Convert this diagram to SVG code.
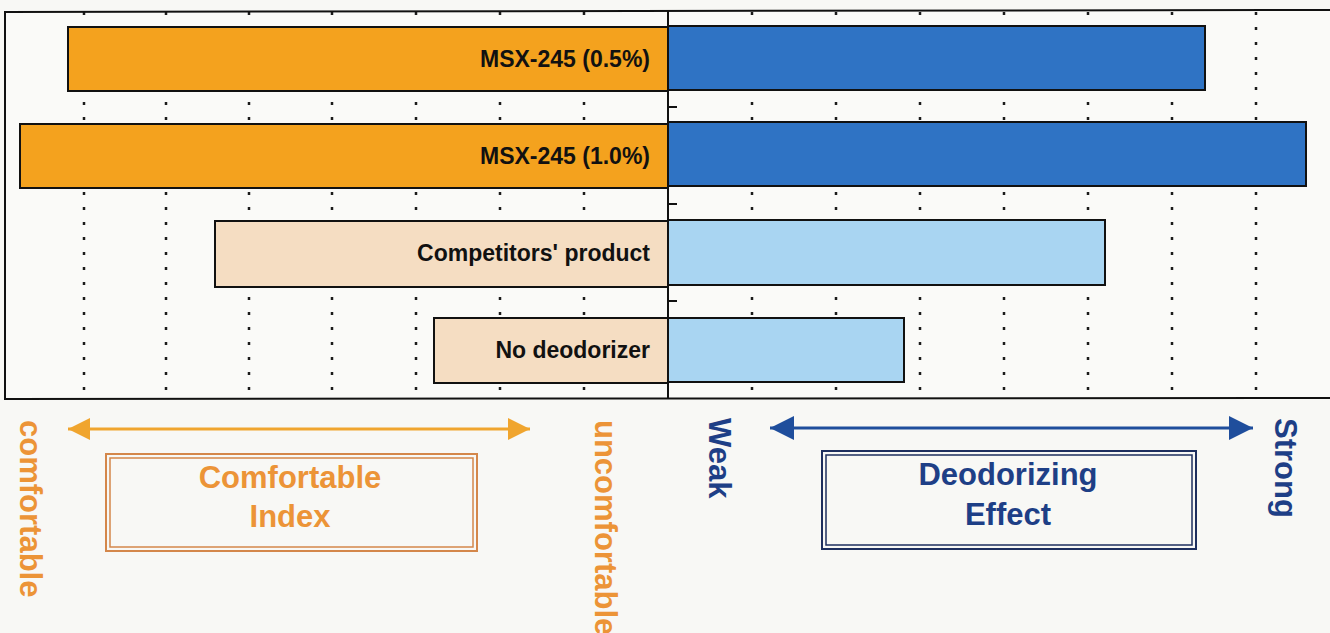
<svg xmlns="http://www.w3.org/2000/svg" width="1330" height="633" viewBox="0 0 1330 633">
<defs>
<style>
.grid{stroke:#1a1a1a;stroke-width:2.5;stroke-dasharray:3 12}
.bar{stroke:#111;stroke-width:2}
.lbl{font-family:"Liberation Sans",Arial,sans-serif;font-weight:bold;font-size:23px;fill:#111;text-anchor:end}
.big{font-family:"Liberation Sans",Arial,sans-serif;font-weight:bold;font-size:31px}
.or{fill:#EC9437}
.bl{fill:#1E3F86}
</style>
<marker id="ao" markerUnits="userSpaceOnUse" markerWidth="24" markerHeight="24" refX="22" refY="12" orient="auto-start-reverse"><path d="M0,1 L22,12 L0,23 z" fill="#F0A52E"/></marker>
<marker id="ab" markerUnits="userSpaceOnUse" markerWidth="26" markerHeight="26" refX="24" refY="13" orient="auto-start-reverse"><path d="M0,1 L24,13 L0,25 z" fill="#1F4E9C"/></marker>
</defs>
<rect width="1330" height="633" fill="#F8F8F5"/>
<rect x="5" y="10" width="1325" height="389" fill="#FAFAF8"/>
<g id="grid">
<line class="grid" x1="84" y1="12" x2="84" y2="398"/>
<line class="grid" x1="166" y1="12" x2="166" y2="398"/>
<line class="grid" x1="249" y1="12" x2="249" y2="398"/>
<line class="grid" x1="332" y1="12" x2="332" y2="398"/>
<line class="grid" x1="416" y1="12" x2="416" y2="398"/>
<line class="grid" x1="500" y1="12" x2="500" y2="398"/>
<line class="grid" x1="584" y1="12" x2="584" y2="398"/>
<line class="grid" x1="752" y1="12" x2="752" y2="398"/>
<line class="grid" x1="836" y1="12" x2="836" y2="398"/>
<line class="grid" x1="920" y1="12" x2="920" y2="398"/>
<line class="grid" x1="1004" y1="12" x2="1004" y2="398"/>
<line class="grid" x1="1088" y1="12" x2="1088" y2="398"/>
<line class="grid" x1="1172" y1="12" x2="1172" y2="398"/>
<line class="grid" x1="1256" y1="12" x2="1256" y2="398"/>
</g>
<g id="bar1">
<rect class="bar" x="68" y="27" width="600" height="64" fill="#F4A21E"/>
<rect class="bar" x="668" y="26" width="537" height="64" fill="#2F73C4"/>
<text class="lbl" x="650" y="67">MSX-245 (0.5%)</text>
</g>
<g id="bar2">
<rect class="bar" x="20" y="124" width="648" height="64" fill="#F4A21E"/>
<rect class="bar" x="668" y="122" width="638" height="64" fill="#2F73C4"/>
<text class="lbl" x="650" y="164">MSX-245 (1.0%)</text>
</g>
<g id="bar3">
<rect class="bar" x="215" y="221" width="453" height="66" fill="#F5DDC2"/>
<rect class="bar" x="668" y="220" width="437" height="65" fill="#A9D5F2"/>
<text class="lbl" x="650" y="261">Competitors' product</text>
</g>
<g id="bar4">
<rect class="bar" x="434" y="318" width="234" height="65" fill="#F5DDC2"/>
<rect class="bar" x="668" y="318" width="236" height="64" fill="#A9D5F2"/>
<text class="lbl" x="650" y="358">No deodorizer</text>
</g>
<g id="frame" stroke="#111" fill="none">
<polyline points="1330,10 5,12 5,399 1330,398" stroke-width="2"/>
<line x1="668" y1="10" x2="668" y2="399" stroke-width="2"/>
<line x1="668" y1="107" x2="677" y2="107" stroke-width="2"/>
<line x1="668" y1="204" x2="677" y2="204" stroke-width="2"/>
<line x1="668" y1="301" x2="677" y2="301" stroke-width="2"/>
</g>
<g id="connectors">
<line x1="68" y1="429" x2="530" y2="429" stroke="#F0A52E" stroke-width="3" marker-start="url(#ao)" marker-end="url(#ao)"/>
<line x1="770" y1="428" x2="1253" y2="428" stroke="#1F4E9C" stroke-width="3" marker-start="url(#ab)" marker-end="url(#ab)"/>
</g>
<g id="comfortable-box">
<rect x="106" y="454" width="371" height="97" fill="none" stroke="#D4874A" stroke-width="2"/>
<rect x="110" y="458" width="363" height="89" fill="none" stroke="#D4874A" stroke-width="1.5"/>
<text class="big or" x="290" y="488" text-anchor="middle">Comfortable</text>
<text class="big or" x="290" y="527" text-anchor="middle">Index</text>
</g>
<g id="deodorizing-box">
<rect x="822" y="451" width="374" height="98" fill="none" stroke="#1E2F5E" stroke-width="2"/>
<rect x="826" y="455" width="366" height="90" fill="none" stroke="#1E2F5E" stroke-width="1.5"/>
<text class="big bl" x="1008" y="485" text-anchor="middle">Deodorizing</text>
<text class="big bl" x="1008" y="525" text-anchor="middle">Effect</text>
</g>
<g id="axis-labels">
<text class="big or" transform="translate(20,420) rotate(90)">comfortable</text>
<text class="big or" transform="translate(595,420) rotate(90)">uncomfortable</text>
<text class="big bl" transform="translate(709,418) rotate(90)">Weak</text>
<text class="big bl" transform="translate(1275,418) rotate(90)">Strong</text>
</g>
</svg>
